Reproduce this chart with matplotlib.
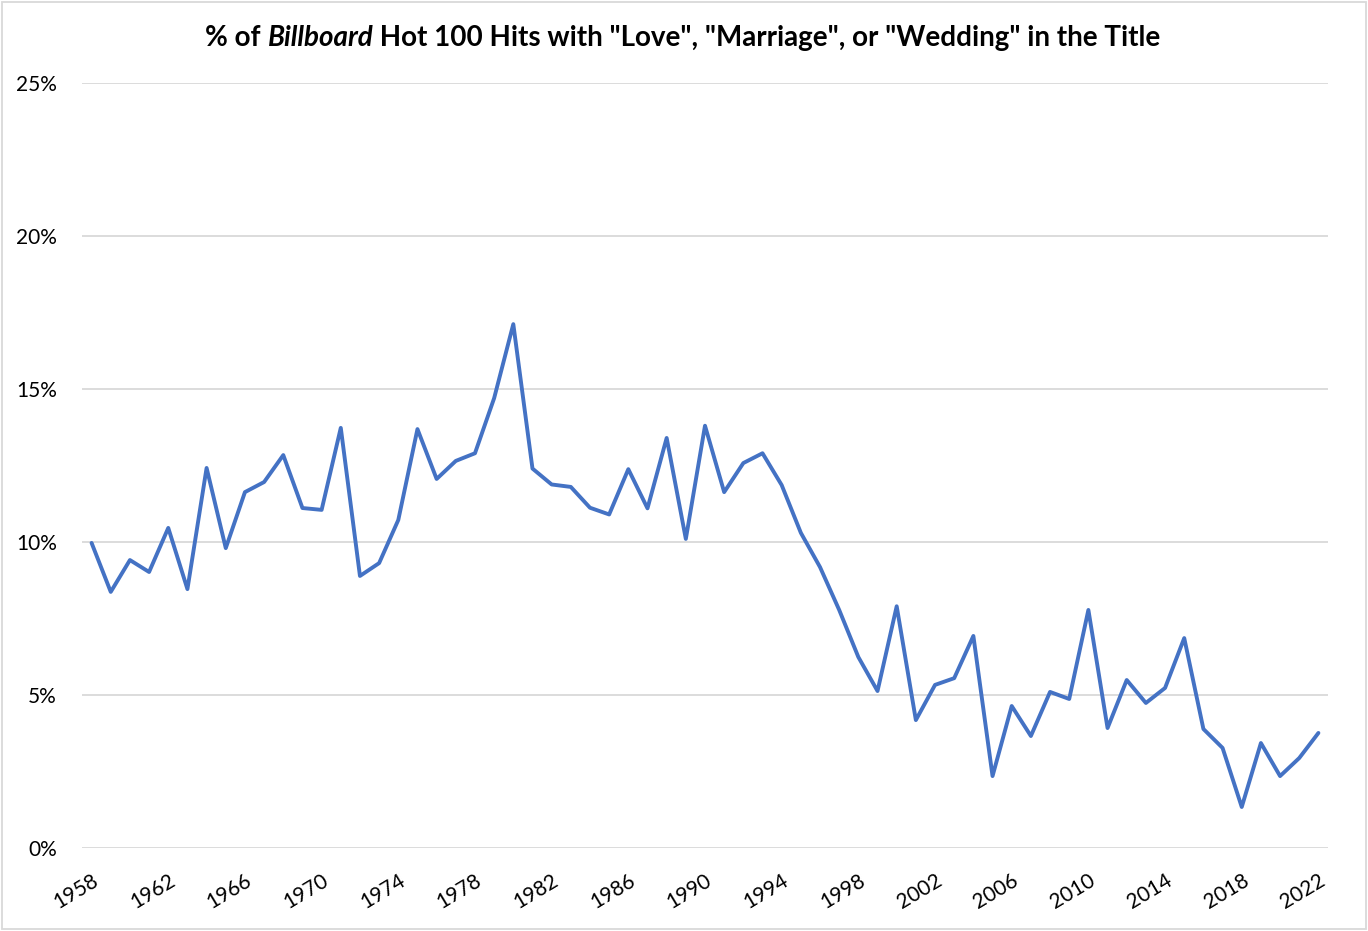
import matplotlib
matplotlib.use("Agg")
import matplotlib.pyplot as plt
from matplotlib.patches import Rectangle
from matplotlib.ticker import FuncFormatter, MultipleLocator

# Share of Hot 100 hits with "Love", "Marriage" or "Wedding" in the title (%)
years = list(range(1958, 2023))
share_pct = [
    9.97, 8.37, 9.41, 9.02, 10.46, 8.46, 12.42, 9.80, 11.63, 11.96,
    12.84, 11.11, 11.05, 13.73, 8.89, 9.31, 10.72, 13.69, 12.06, 12.65,
    12.90, 14.70, 17.12, 12.40, 11.88, 11.80, 11.12, 10.90, 12.38, 11.10,
    13.40, 10.10, 13.80, 11.63, 12.58, 12.90, 11.86, 10.30, 9.18, 7.78,
    6.24, 5.13, 7.90, 4.18, 5.33, 5.55, 6.93, 2.35, 4.64, 3.66,
    5.10, 4.87, 7.78, 3.92, 5.49, 4.74, 5.23, 6.86, 3.89, 3.27,
    1.34, 3.43, 2.35, 2.94, 3.76,
]
tick_years = list(range(1958, 2023, 4))

FONT = ["Lato", "DejaVu Sans"]
plt.rcParams['font.family'] = FONT

fig = plt.figure(figsize=(13.68, 9.31), dpi=100)
ax = fig.add_axes([82 / 1368, 1 - 848 / 931, (1328 - 82) / 1368, (848 - 83) / 931])

ax.plot(years, share_pct, color="#4472C4", linewidth=2.8,
        solid_joinstyle="round", solid_capstyle="round")

ax.set_xlim(1957.5, 2022.5)
ax.set_ylim(0, 25)
ax.yaxis.set_major_locator(MultipleLocator(5))
ax.yaxis.set_major_formatter(FuncFormatter(lambda v, pos: f"{v:.0f}%"))
ax.set_xticks(tick_years)
ax.set_xticklabels([str(y) for y in tick_years], rotation=31, ha="right",
                   rotation_mode="anchor", fontsize=15, color="#000000")
ax.tick_params(axis="y", labelsize=15, length=0, pad=18)
ax.tick_params(axis="x", length=0, pad=16)
ax.grid(axis="y", color="#d9d9d9", linewidth=1.3)
ax.set_axisbelow(True)
for s in ax.spines.values():
    s.set_visible(False)

# title with italic "Billboard" built from pieces
parts = [("% of ", "normal"), ("Billboard", "italic"),
         (' Hot 100 Hits with "Love", "Marriage", or "Wedding" in the Title', "normal")]
texts = [fig.text(0, 1 - 38 / 931, p, fontsize=20, fontweight="bold", style=st,
                  va="center", ha="left") for p, st in parts]
fig.canvas.draw()
r = fig.canvas.get_renderer()
widths = [t.get_window_extent(r).width for t in texts]
x = 683 - sum(widths) / 2
for t, w in zip(texts, widths):
    t.set_x(x / 1368)
    x += w

# chart border
fig.patches.append(Rectangle((2 / 1368, 2 / 931), 1 - 4 / 1368, 1 - 4 / 931,
                             transform=fig.transFigure, fill=False,
                             edgecolor="#d9d9d9", linewidth=1.3))

fig.savefig("out.png", dpi=100)
